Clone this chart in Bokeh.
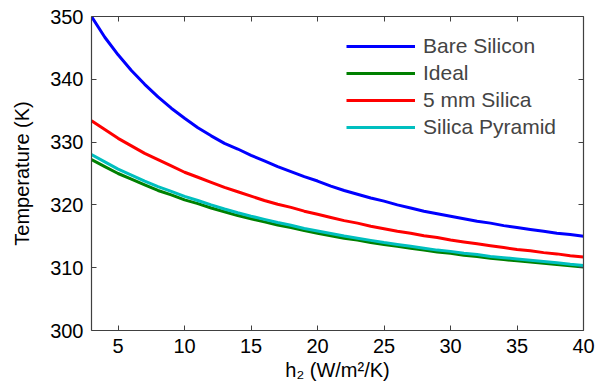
from bokeh.plotting import figure
from bokeh.models import Range1d, LinearAxis, FixedTicker, CustomJSTickFormatter
from bokeh.embed import file_html
from bokeh.resources import INLINE

h2 = list(range(3, 41))
bare_silicon = [350.0, 346.7, 343.9, 341.4, 339.2, 337.2, 335.4, 333.8, 332.3, 331.0,
                329.8, 328.9, 327.9, 327.0, 326.1, 325.3, 324.5, 323.8, 323.0, 322.3,
                321.7, 321.1, 320.6, 320.0, 319.5, 319.0, 318.6, 318.2, 317.8, 317.4,
                317.1, 316.7, 316.4, 316.1, 315.8, 315.5, 315.3, 315.0]
ideal = [327.2, 326.1, 325.0, 324.1, 323.2, 322.3, 321.6, 320.8, 320.2, 319.5,
         318.9, 318.3, 317.8, 317.3, 316.8, 316.4, 315.9, 315.5, 315.1, 314.7,
         314.4, 314.0, 313.7, 313.4, 313.1, 312.8, 312.5, 312.3, 312.0, 311.8,
         311.5, 311.3, 311.1, 310.9, 310.7, 310.5, 310.3, 310.1]
silica_5mm = [333.4, 332.0, 330.6, 329.4, 328.2, 327.2, 326.2, 325.2, 324.4, 323.6,
              322.8, 322.1, 321.4, 320.7, 320.1, 319.6, 319.0, 318.5, 318.0, 317.5,
              317.1, 316.6, 316.2, 315.8, 315.5, 315.1, 314.8, 314.4, 314.1, 313.8,
              313.5, 313.2, 312.9, 312.7, 312.4, 312.2, 311.9, 311.7]
silica_pyramid = [328.0, 326.85, 325.7, 324.75, 323.8, 322.9, 322.15, 321.35, 320.7, 320.0,
                  319.35, 318.75, 318.2, 317.7, 317.2, 316.75, 316.25, 315.85, 315.45, 315.05,
                  314.7, 314.35, 314.0, 313.7, 313.4, 313.1, 312.8, 312.6, 312.3, 312.1,
                  311.8, 311.6, 311.4, 311.2, 311.0, 310.8, 310.55, 310.35]

x_ticks = [5, 10, 15, 20, 25, 30, 35, 40]
y_ticks = [300, 310, 320, 330, 340, 350]

series = [
    ("Bare Silicon", bare_silicon, "#0000ff"),
    ("Ideal", ideal, "#008000"),
    ("5 mm Silica", silica_5mm, "#ff0000"),
    ("Silica Pyramid", silica_pyramid, "#00bfbf"),
]

FONT = "Liberation Sans"
AX = "#404040"

p = figure(
    output_backend="svg", toolbar_location=None,
    width=600, height=390,
    min_border_left=91, min_border_right=17, min_border_top=16, min_border_bottom=60,
    x_range=Range1d(3, 40), y_range=Range1d(300, 350),
)
p.background_fill_color = "white"
p.border_fill_color = "white"
p.outline_line_color = None
p.xgrid.visible = False
p.ygrid.visible = False

for name, vals, col in series:
    p.line(h2, vals, line_color=col, line_width=3, legend_label=name)

def style(ax, ticks, labels=True):
    ax.ticker = FixedTicker(ticks=ticks)
    ax.minor_tick_line_color = None
    ax.major_tick_in = 5
    ax.major_tick_out = 0
    ax.axis_line_color = AX
    ax.major_tick_line_color = AX
    ax.axis_line_width = 1.2
    ax.major_label_text_font = FONT
    ax.major_label_text_color = "black"
    ax.major_label_text_font_size = "20px"
    ax.axis_label_text_font = FONT
    ax.axis_label_text_font_style = "normal"
    ax.axis_label_text_font_size = "20px"
    ax.axis_label_text_color = "black"
    if not labels:
        ax.formatter = CustomJSTickFormatter(code="return ''")
        ax.major_label_standoff = 0

style(p.xaxis[0], x_ticks)
style(p.yaxis[0], y_ticks)
p.xaxis[0].axis_label = "h\u2082 (W/m\u00b2/K)"
p.yaxis[0].axis_label = "Temperature (K)"
p.xaxis[0].major_label_standoff = 8
p.yaxis[0].major_label_standoff = 8
p.xaxis[0].axis_label_standoff = 3
p.yaxis[0].axis_label_standoff = 14

top = LinearAxis()
style(top, x_ticks, labels=False)
p.add_layout(top, "above")
right = LinearAxis()
style(right, y_ticks, labels=False)
p.add_layout(right, "right")

lg = p.legend[0]
lg.location = (255, 191)
lg.border_line_color = None
lg.background_fill_alpha = 0
lg.label_text_font = FONT
lg.label_text_font_size = "21px"
lg.glyph_width = 69
lg.glyph_height = 20
lg.label_height = 20
lg.spacing = 3
lg.label_standoff = 8
lg.margin = 0
lg.padding = 8

open("out.html", "w").write(file_html(p, INLINE))
